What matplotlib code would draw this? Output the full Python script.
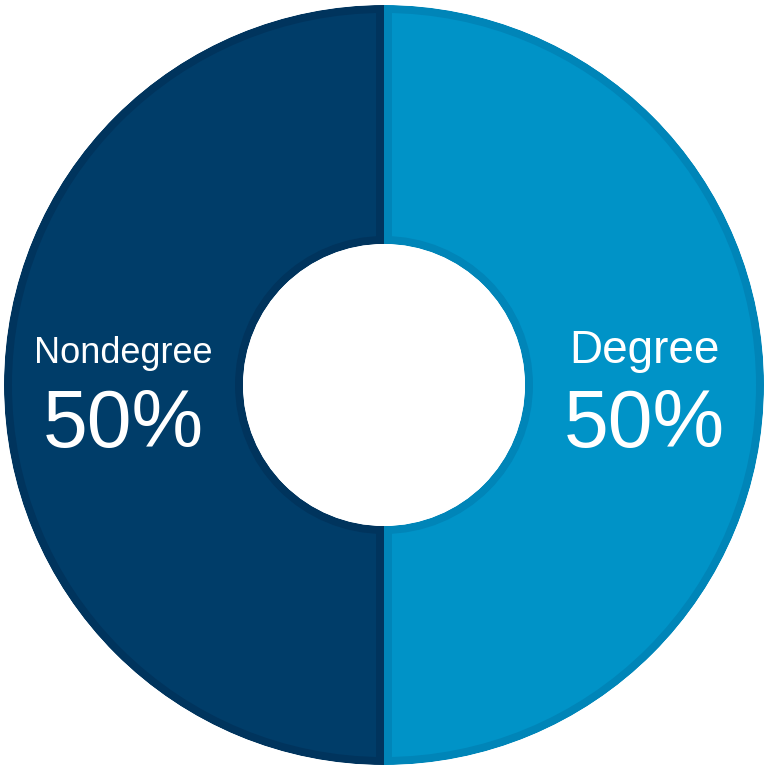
import matplotlib.pyplot as plt
from matplotlib.patches import Circle, Wedge

labels = ['Degree', 'Nondegree']
shares = [50, 50]
fill_colors = ['#0093C7', '#003D69']
edge_colors = ['#0085B8', '#00345D']

W, H = 766, 768
cx, cy, R = 384, 385, 380
hole = 141

fig = plt.figure(figsize=(W / 100, H / 100), dpi=100)
ax = fig.add_axes([0, 0, 1, 1])

# pixel coordinates, y going down; Nondegree (left half) first
wedges, _ = ax.pie(shares[::-1], colors=fill_colors[::-1], startangle=90,
                   counterclock=True, center=(cx, cy), radius=R,
                   wedgeprops=dict(width=R - hole), frame=True)
for w, ec in zip(wedges, edge_colors[::-1]):
    w.set_edgecolor(ec)
    w.set_linewidth(11.5)
    # pie turns clipping off; clip each wedge to itself so the edge sits inside
    w.set_clip_on(True)
    w.set_clip_path(w)

# white cover for anything left outside the ring
ax.add_patch(Circle((cx, cy), hole, facecolor='white', edgecolor='none'))
ax.add_patch(Wedge((cx, cy), R + 40, 0, 360, width=40, facecolor='white', edgecolor='none'))

ax.set_xlim(0, W)
ax.set_ylim(H, 0)
ax.set_aspect('equal')
ax.axis('off')

font = ['Liberation Sans', 'DejaVu Sans']
pos = {'Degree': 644, 'Nondegree': 123}
sizes = {'Degree': 33, 'Nondegree': 26}
for lab, val in zip(labels, shares):
    x = pos[lab]
    ax.text(x, 363, lab, ha='center', va='baseline', color='white',
            fontsize=sizes[lab], family=font)
    ax.text(x, 447, f'{val}%', ha='center', va='baseline', color='white',
            fontsize=58, family=font)

fig.savefig('out.png', dpi=100)
